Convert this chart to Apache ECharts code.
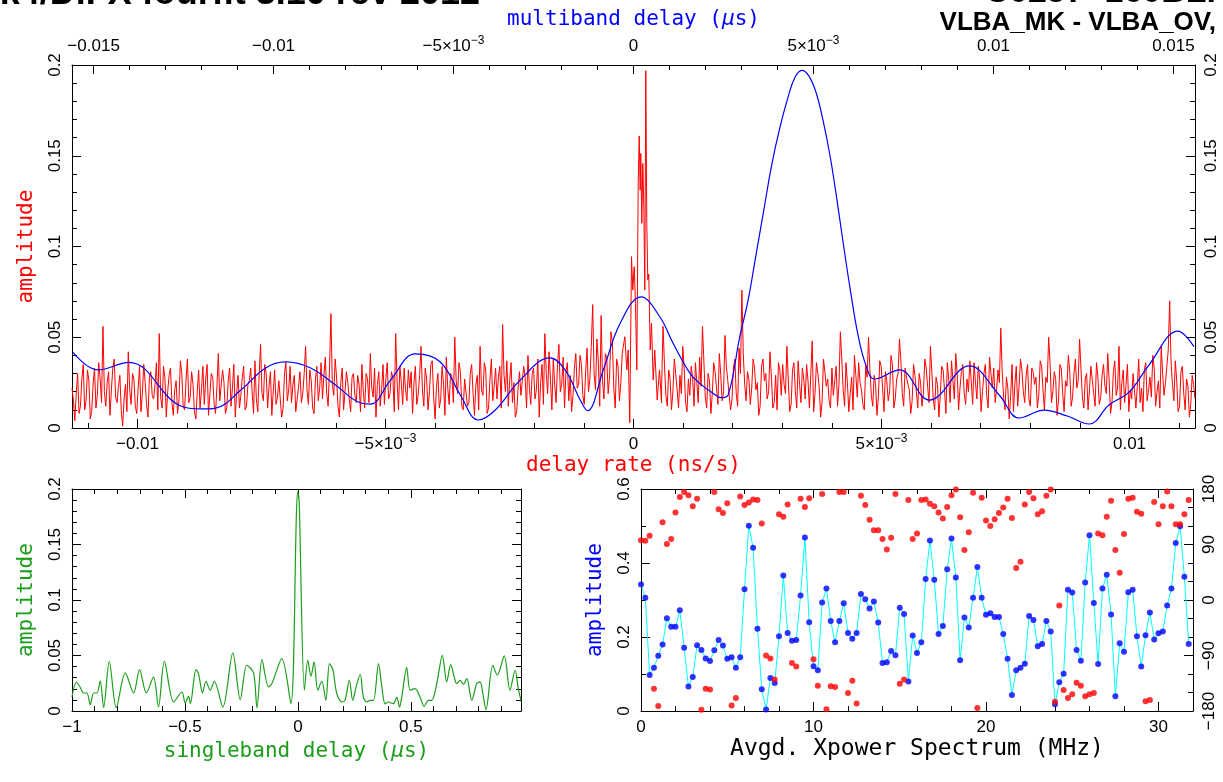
<!DOCTYPE html>
<html>
<head>
<meta charset="utf-8">
<title>fourfit fringe plot</title>
<script src="https://cdn.jsdelivr.net/npm/echarts@6/dist/echarts.min.js"></script>
<style>
  html, body { margin: 0; padding: 0; background: #ffffff; }
  #chart { width: 1223px; height: 782px; }
</style>
</head>
<body>
<div id="chart"></div>
<script>
// ---------------- delay-rate spectrum (top panel, bottom axis, ns/s) ----------------
const RATE_MIN = -0.01132;
const RATE_MAX = 0.01132;
const RATE_POINTS = 799;            // uniform sampling of the rate window
// left of the fringe peak: even grid samples
const rateLeftEven = [
  0.022, 0.004, 0.030, 0.012, 0.035, 0.015, 0.026, 0.009, 0.033, 0.018, 0.027, 0.056, 0.012, 0.031, 0.021, 0.038, 0.014, 0.029, 0.001, 0.024,
  0.042, 0.013, 0.027, 0.008, 0.034, 0.019, 0.025, 0.006, 0.031, 0.016, 0.036, 0.052, 0.011, 0.028, 0.020, 0.033, 0.007, 0.026, 0.015, 0.030,
  0.010, 0.038, 0.017, 0.024, 0.005, 0.032, 0.021, 0.013, 0.035, 0.019, 0.028, 0.008, 0.041, 0.016, 0.025, 0.011, 0.033, 0.022, 0.006, 0.029,
  0.018, 0.034, 0.012, 0.026, 0.020, 0.037, 0.009, 0.046, 0.015, 0.030, 0.023, 0.007, 0.032, 0.017, 0.027, 0.011, 0.036, 0.021, 0.014, 0.029,
  0.010, 0.031, 0.019, 0.045, 0.013, 0.026, 0.008, 0.034, 0.022, 0.016, 0.039, 0.012, 0.063, 0.018, 0.028, 0.006, 0.033, 0.020, 0.025, 0.009,
  0.030, 0.014, 0.024, 0.035, 0.011, 0.027, 0.041, 0.017, 0.006, 0.031, 0.021, 0.013, 0.036, 0.019, 0.028, 0.052, 0.010, 0.025, 0.033, 0.015,
  0.022, 0.008, 0.034, 0.018, 0.045, 0.012, 0.027, 0.020, 0.037, 0.005, 0.030, 0.016, 0.024, 0.039, 0.013, 0.028, 0.050, 0.019, 0.031, 0.010,
  0.026, 0.014, 0.035, 0.007, 0.029, 0.045, 0.018, 0.032, 0.011, 0.038, 0.023, 0.016, 0.034, 0.057, 0.020, 0.012, 0.036, 0.025, 0.009, 0.031,
  0.017, 0.028, 0.040, 0.013, 0.033, 0.021, 0.006, 0.035, 0.052, 0.019, 0.027, 0.038, 0.014, 0.046, 0.024, 0.011, 0.036, 0.029, 0.018, 0.041,
  0.024, 0.035, 0.013, 0.044, 0.027, 0.068, 0.021, 0.037, 0.062, 0.016, 0.039, 0.028, 0.047, 0.011, 0.034, 0.025
];
// left of the fringe peak: odd grid samples
const rateLeftOdd = [
  0.015, 0.019, 0.008, 0.027, 0.010, 0.032, 0.005, 0.024, 0.011, 0.036, 0.014, 0.020, 0.025, 0.007, 0.033, 0.017, 0.023, 0.010, 0.016, 0.009,
  0.021, 0.030, 0.012, 0.022, 0.009, 0.035, 0.013, 0.028, 0.018, 0.024, 0.010, 0.017, 0.034, 0.006, 0.029, 0.014, 0.021, 0.008, 0.037, 0.012,
  0.026, 0.014, 0.031, 0.009, 0.020, 0.011, 0.034, 0.027, 0.007, 0.030, 0.013, 0.023, 0.015, 0.032, 0.008, 0.026, 0.012, 0.035, 0.019, 0.011,
  0.028, 0.010, 0.024, 0.033, 0.008, 0.016, 0.029, 0.019, 0.035, 0.011, 0.031, 0.020, 0.013, 0.026, 0.006, 0.030, 0.015, 0.034, 0.024, 0.009,
  0.023, 0.014, 0.030, 0.021, 0.032, 0.011, 0.027, 0.015, 0.036, 0.029, 0.019, 0.033, 0.024, 0.038, 0.012, 0.025, 0.010, 0.031, 0.016, 0.028,
  0.018, 0.029, 0.009, 0.020, 0.030, 0.014, 0.022, 0.033, 0.024, 0.012, 0.035, 0.027, 0.016, 0.031, 0.009, 0.026, 0.034, 0.013, 0.021, 0.032,
  0.031, 0.025, 0.013, 0.029, 0.021, 0.033, 0.010, 0.035, 0.017, 0.023, 0.011, 0.034, 0.007, 0.022, 0.030, 0.014, 0.026, 0.036, 0.012, 0.027,
  0.012, 0.030, 0.019, 0.024, 0.010, 0.021, 0.036, 0.008, 0.027, 0.015, 0.033, 0.028, 0.011, 0.029, 0.037, 0.026, 0.014, 0.006, 0.022, 0.018,
  0.034, 0.011, 0.022, 0.030, 0.016, 0.038, 0.025, 0.013, 0.030, 0.042, 0.010, 0.024, 0.035, 0.020, 0.039, 0.031, 0.015, 0.009, 0.033, 0.022,
  0.040, 0.018, 0.031, 0.020, 0.045, 0.030, 0.049, 0.012, 0.026, 0.041, 0.019, 0.053, 0.022, 0.038, 0.015, 0.041
];
// finely sampled fringe peak: [rate (ns/s), amplitude]
const rateCore = [
  [-0.000175, 0.0503], [-0.000135, 0.0320], [-0.000107, 0.0430], [-0.000075, 0.0029],
  [-0.000040, 0.0944], [-0.000014, 0.0760], [0.000014, 0.0889], [0.000040, 0.0687],
  [0.000067, 0.0320], [0.000095, 0.1348], [0.000115, 0.1609], [0.000135, 0.1311],
  [0.000147, 0.1513], [0.000167, 0.1128], [0.000188, 0.1458], [0.000208, 0.1219],
  [0.000228, 0.0760], [0.000248, 0.1969], [0.000268, 0.1128], [0.000288, 0.0815],
  [0.000308, 0.0848], [0.000337, 0.0430], [0.000363, 0.0577], [0.000397, 0.0264],
  [0.000429, 0.0430], [0.000478, 0.0154], [0.000524, 0.0320], [0.000565, 0.0138]
];
// right of the fringe peak: odd grid samples
const rateRightOdd = [
  0.024, 0.035, 0.012, 0.027, 0.020, 0.030, 0.011, 0.019, 0.033, 0.009,
  0.018, 0.028, 0.036, 0.014, 0.023, 0.037, 0.011, 0.026, 0.019, 0.031, 0.013, 0.029, 0.020, 0.034, 0.027, 0.016, 0.038, 0.012, 0.030, 0.041,
  0.015, 0.027, 0.022, 0.033, 0.025, 0.012, 0.038, 0.030, 0.020, 0.028, 0.014, 0.010, 0.032, 0.035, 0.019, 0.026, 0.013, 0.036, 0.011, 0.024,
  0.033, 0.016, 0.026, 0.030, 0.009, 0.036, 0.022, 0.014, 0.031, 0.027, 0.011, 0.018, 0.034, 0.024, 0.038, 0.012, 0.025, 0.019, 0.010, 0.029,
  0.036, 0.021, 0.010, 0.028, 0.032, 0.012, 0.024, 0.017, 0.034, 0.009, 0.026, 0.020, 0.035, 0.016, 0.030, 0.037, 0.012, 0.028, 0.021, 0.015,
  0.029, 0.011, 0.025, 0.019, 0.033, 0.014, 0.031, 0.010, 0.024, 0.018, 0.032, 0.008, 0.027, 0.037, 0.016, 0.030, 0.022, 0.035, 0.013, 0.020,
  0.026, 0.036, 0.016, 0.027, 0.020, 0.035, 0.011, 0.030, 0.033, 0.021, 0.025, 0.031, 0.010, 0.022, 0.018, 0.009, 0.034, 0.023, 0.032, 0.014,
  0.035, 0.012, 0.031, 0.028, 0.018, 0.034, 0.010, 0.025, 0.036, 0.020, 0.027, 0.015, 0.033, 0.009, 0.023, 0.031, 0.017, 0.038, 0.026, 0.032,
  0.011, 0.030, 0.021, 0.033, 0.012, 0.028, 0.017, 0.035, 0.019, 0.026, 0.014, 0.037, 0.022, 0.010, 0.032, 0.024, 0.009, 0.016, 0.029, 0.023,
  0.014, 0.009, 0.036, 0.021, 0.017, 0.033, 0.020, 0.011, 0.030, 0.025, 0.043, 0.036, 0.015, 0.026, 0.012, 0.034, 0.010, 0.023, 0.013, 0.024
];
// right of the fringe peak: even grid samples
const rateRightEven = [
  0.056, 0.018, 0.032, 0.010, 0.038, 0.021, 0.029, 0.045, 0.014, 0.027,
  0.034, 0.012, 0.025, 0.039, 0.056, 0.017, 0.030, 0.008, 0.036, 0.022, 0.041, 0.015, 0.051, 0.026, 0.010, 0.033, 0.019, 0.044, 0.076, 0.024,
  0.031, 0.013, 0.038, 0.021, 0.007, 0.034, 0.026, 0.016, 0.042, 0.011, 0.029, 0.036, 0.018, 0.024, 0.045, 0.009, 0.032, 0.020, 0.037, 0.014,
  0.027, 0.035, 0.011, 0.048, 0.019, 0.030, 0.006, 0.038, 0.023, 0.015, 0.033, 0.026, 0.012, 0.053, 0.021, 0.036, 0.009, 0.028, 0.040, 0.017,
  0.025, 0.013, 0.034, 0.050, 0.018, 0.029, 0.007, 0.037, 0.022, 0.031, 0.015, 0.040, 0.011, 0.027, 0.049, 0.019, 0.033, 0.024, 0.008, 0.035,
  0.020, 0.030, 0.012, 0.038, 0.023, 0.045, 0.016, 0.028, 0.006, 0.034, 0.021, 0.036, 0.014, 0.026, 0.041, 0.010, 0.031, 0.019, 0.027, 0.037,
  0.013, 0.025, 0.034, 0.009, 0.030, 0.018, 0.039, 0.022, 0.014, 0.032, 0.055, 0.017, 0.028, 0.005, 0.035, 0.024, 0.012, 0.038, 0.020, 0.029,
  0.016, 0.033, 0.024, 0.011, 0.037, 0.021, 0.028, 0.050, 0.014, 0.031, 0.007, 0.035, 0.019, 0.026, 0.040, 0.012, 0.030, 0.022, 0.049, 0.017,
  0.027, 0.010, 0.034, 0.019, 0.036, 0.013, 0.029, 0.023, 0.041, 0.008, 0.031, 0.018, 0.045, 0.025, 0.014, 0.035, 0.021, 0.030, 0.011, 0.038,
  0.022, 0.032, 0.015, 0.028, 0.040, 0.012, 0.026, 0.045, 0.018, 0.034, 0.070, 0.024, 0.037, 0.009, 0.031, 0.019, 0.027, 0.006, 0.029, 0.016
];
const rateTicks = [-0.01, -0.005, 0, 0.005, 0.01];
const rateTickLabels = ['−0.01', '−5×10^−3', '0', '5×10^−3', '0.01'];

// ---------------- multiband delay function (top panel, top axis, µs) ----------------
const MBD_MIN = -0.0156;
const MBD_MAX = 0.0156;
const mbdCurve = [
  [-0.01557, 0.0417], [-0.01488, 0.0320], [-0.01402, 0.0362], [-0.01258, 0.0121],
  [-0.01202, 0.0105], [-0.01161, 0.0110], [-0.01091, 0.0209], [-0.01022, 0.0331],
  [-0.00967, 0.0364], [-0.00897, 0.0331], [-0.00828, 0.0237], [-0.00758, 0.0138],
  [-0.00731, 0.0132], [-0.00675, 0.0264], [-0.00606, 0.0408], [-0.00537, 0.0364],
  [-0.00481, 0.0182], [-0.00431, 0.0044], [-0.00384, 0.0099], [-0.00315, 0.0264],
  [-0.00232, 0.0386], [-0.00190, 0.0320], [-0.00148, 0.0154], [-0.00128, 0.0095],
  [-0.00084, 0.0320], [-0.00037, 0.0577], [0.00021, 0.0723], [0.00073, 0.0613],
  [0.00110, 0.0467], [0.00157, 0.0301], [0.00184, 0.0246], [0.00221, 0.0191],
  [0.00243, 0.0167], [0.00263, 0.0182], [0.00295, 0.0500], [0.00318, 0.0700],
  [0.00340, 0.0950], [0.00362, 0.1200], [0.00384, 0.1450], [0.00406, 0.1650],
  [0.00429, 0.1820], [0.00448, 0.1930], [0.00468, 0.1970], [0.00487, 0.1940],
  [0.00507, 0.1850], [0.00526, 0.1700], [0.00546, 0.1500], [0.00565, 0.1260],
  [0.00584, 0.1000], [0.00604, 0.0740], [0.00623, 0.0520], [0.00645, 0.0350],
  [0.00670, 0.0270], [0.00739, 0.0320], [0.00822, 0.0154],
  [0.00933, 0.0342], [0.01016, 0.0182], [0.01072, 0.0055], [0.01141, 0.0099],
  [0.01205, 0.0066], [0.01266, 0.0022], [0.01321, 0.0127], [0.01377, 0.0198],
  [0.01432, 0.0347], [0.01513, 0.0534], [0.01557, 0.0448]
];
const mbdTicks = [-0.015, -0.01, -0.005, 0, 0.005, 0.01, 0.015];
const mbdTickLabels = ['−0.015', '−0.01', '−5×10^−3', '0', '5×10^−3', '0.01', '0.015'];

// ---------------- singleband delay function (bottom left, µs) ----------------
const SBD_MIN = -1;
const SBD_MAX = 0.988;
const sbdCurve = [
  [-1.000, 0.0126], [-0.981, 0.0259], [-0.966, 0.0223], [-0.948, 0.0162], [-0.934, 0.0162],
  [-0.919, 0.0057], [-0.904, 0.0162], [-0.889, 0.0162], [-0.875, 0.0271], [-0.860, 0.0030],
  [-0.835, 0.0448], [-0.804, 0.0030], [-0.764, 0.0343], [-0.727, 0.0162], [-0.701, 0.0373],
  [-0.671, 0.0162], [-0.639, 0.0307], [-0.617, 0.0036], [-0.591, 0.0448], [-0.550, 0.0081],
  [-0.513, 0.0171], [-0.499, 0.0072], [-0.484, 0.0132], [-0.476, 0.0066], [-0.451, 0.0373],
  [-0.440, 0.0337], [-0.422, 0.0162], [-0.407, 0.0268], [-0.388, 0.0187], [-0.370, 0.0268],
  [-0.332, 0.0036], [-0.288, 0.0523], [-0.255, 0.0102], [-0.226, 0.0412], [-0.196, 0.0343],
  [-0.181, 0.0030], [-0.159, 0.0463], [-0.130, 0.0217], [-0.115, 0.0247], [-0.071, 0.0472],
  [-0.031, 0.0066], [-0.006, 0.1800], [0.000, 0.1977], [0.006, 0.1880], [0.029, 0.0187],
  [0.044, 0.0457], [0.058, 0.0313], [0.072, 0.0442], [0.088, 0.0187], [0.106, 0.0268],
  [0.124, 0.0096], [0.140, 0.0427], [0.155, 0.0373], [0.172, 0.0160], [0.195, 0.0081],
  [0.209, 0.0096], [0.228, 0.0277], [0.243, 0.0096], [0.258, 0.0217], [0.276, 0.0331],
  [0.290, 0.0126], [0.305, 0.0081], [0.320, 0.0096], [0.335, 0.0096], [0.357, 0.0427],
  [0.372, 0.0217], [0.386, 0.0066], [0.401, 0.0081], [0.423, 0.0066], [0.438, 0.0126],
  [0.450, 0.0036], [0.460, 0.0126], [0.482, 0.0391], [0.497, 0.0187], [0.519, 0.0202],
  [0.541, 0.0126], [0.559, 0.0042], [0.578, 0.0096], [0.593, 0.0096], [0.615, 0.0247],
  [0.640, 0.0502], [0.659, 0.0262], [0.677, 0.0418], [0.692, 0.0307], [0.703, 0.0247],
  [0.718, 0.0277], [0.733, 0.0241], [0.748, 0.0292], [0.770, 0.0096], [0.792, 0.0247],
  [0.807, 0.0262], [0.818, 0.0171], [0.833, 0.0012], [0.863, 0.0412], [0.883, 0.0322],
  [0.914, 0.0496], [0.939, 0.0187], [0.962, 0.0367], [0.976, 0.0202], [0.988, 0.0096]
];

// ---------------- averaged cross-power spectrum (bottom right) ----------------
const CHAN_STEP = 0.25;   // MHz between spectral points
const FREQ_MAX = 32;
const chanAmp = [
  0.342, 0.306, 0.097, 0.117, 0.149, 0.180, 0.251, 0.228, 0.228, 0.272,
  0.171, 0.066, 0.092, 0.178, 0.165, 0.142, 0.135, 0.164, 0.192, 0.177,
  0.141, 0.145, 0.117, 0.145, 0.329, 0.501, 0.441, 0.222, 0.059, 0.004,
  0.089, 0.076, 0.202, 0.366, 0.211, 0.190, 0.192, 0.312, 0.469, 0.240,
  0.121, 0.110, 0.293, 0.331, 0.243, 0.186, 0.243, 0.291, 0.211, 0.195,
  0.211, 0.316, 0.302, 0.277, 0.296, 0.239, 0.130, 0.132, 0.162, 0.151,
  0.279, 0.262, 0.080, 0.204, 0.157, 0.186, 0.357, 0.461, 0.355, 0.208,
  0.230, 0.383, 0.466, 0.361, 0.137, 0.253, 0.226, 0.306, 0.389, 0.306,
  0.260, 0.264, 0.254, 0.254, 0.208, 0.141, 0.043, 0.110, 0.117, 0.128,
  0.257, 0.246, 0.175, 0.181, 0.243, 0.215, 0.018, 0.078, 0.101, 0.328,
  0.320, 0.165, 0.136, 0.347, 0.475, 0.292, 0.127, 0.331, 0.368, 0.261,
  0.040, 0.183, 0.160, 0.321, 0.328, 0.202, 0.120, 0.205, 0.266, 0.193,
  0.210, 0.215, 0.285, 0.331, 0.454, 0.499, 0.363, 0.181
];
const chanPhase = [
  97, 96, 104, -144, -172, 126, 91, 99, 142, 167,
  175, 170, 152, 164, -178, -144, -145, 175, 147, 141,
  157, -171, -159, 168, 154, 158, 163, 162, 124, -90,
  -95, -129, 139, 135, 155, -102, -108, 164, 151, 165,
  -96, -139, 172, -177, -140, -141, 175, 175, -151, -131,
  -168, 169, 154, 130, 113, 113, 99, 82, 101, 172,
  -136, -129, 162, 99, 108, 162, 163, 156, 152, 142,
  132, 151, 170, 179, 134, 81, 110, 174, -175, 166,
  129, 120, 131, 141, 150, 164, 133, 52, 62, 155,
  175, 165, 139, 144, 169, 179, -165, -9, -146, -159,
  -153, -134, -139, -156, -153, -151, 108, 105, 135, 161,
  81, 44, 107, 164, 166, 143, 140, -164, -162, 159,
  123, 152, 176, 152, 123, 123, 139, 162
];

// ---------------- headers ----------------
const headerLeft = 'Mk4/DiFX fourfit 3.10 rev 2012';
const headerRight1 = 'C0257+160BL.';
const headerRight2 = 'VLBA_MK - VLBA_OV,';

// ---------------- build series data ----------------
const rateStep = (RATE_MAX - RATE_MIN) / (RATE_POINTS - 1);
const rateX = j => RATE_MIN + j * rateStep;
const rateSeries = [];
rateLeftEven.forEach((a, i) => {
  rateSeries.push([rateX(2 * i), a]);
  rateSeries.push([rateX(2 * i + 1), rateLeftOdd[i]]);
});
rateCore.forEach(p => rateSeries.push(p));
const rightStart = RATE_POINTS - 2 * rateRightEven.length;
rateRightEven.forEach((a, i) => {
  rateSeries.push([rateX(rightStart + 2 * i), rateRightOdd[i]]);
  rateSeries.push([rateX(rightStart + 2 * i + 1), a]);
});

const ampSeries = chanAmp.map((a, i) => [i * CHAN_STEP, a]);
const phaseSeries = chanPhase.map((p, i) => [i * CHAN_STEP, p]);

const rateMinorTicks = [];
for (let k = -11; k <= 11; k++) rateMinorTicks.push(k / 1000);
const mbdMinorTicks = [];
for (let k = -15; k <= 15; k++) mbdMinorTicks.push(k / 1000);

// ---------------- styling helpers ----------------
const TICK_FONT = 'Liberation Sans';
const NAME_FONT = 'DejaVu Sans Mono';
const RED = '#ff0000', BLUE = '#0000ff', GREEN = '#1a9e1a', CYAN = '#00ffff';

const tickRich = {
  b: { fontFamily: TICK_FONT, fontSize: 17, lineHeight: 22, color: '#000' },
  s: { fontFamily: TICK_FONT, fontSize: 12, lineHeight: 12, verticalAlign: 'top', color: '#000' }
};
function richTick(values, labels) {
  return function (v) {
    const k = values.findIndex(t => Math.abs(t - v) < 1e-9);
    if (k < 0) return '';
    const parts = labels[k].split('^');
    return parts.length > 1 ? '{b|' + parts[0] + '}{s|' + parts[1] + '}' : '{b|' + parts[0] + '}';
  };
}
const minus = v => String(+v.toFixed(6)).replace('-', '−');
const plainRich = v => '{b|' + minus(v) + '}';

const frameLine = { show: true, onZero: false, lineStyle: { color: '#000', width: 1 } };
const noLine = { show: false, onZero: false };
const tickStyle = { color: '#000', width: 1 };

function nameStyle(color, size) {
  return {
    color: color, fontFamily: NAME_FONT, fontSize: size,
    rich: {
      t: { color: color, fontFamily: NAME_FONT, fontSize: size, lineHeight: size + 2 },
      i: { color: color, fontFamily: NAME_FONT, fontSize: size, lineHeight: size + 2, fontStyle: 'italic' }
    }
  };
}

// value axis with regular interval and minor ticks
function regularAxis(o) {
  return {
    type: 'value', gridIndex: o.grid, position: o.position,
    min: o.min, max: o.max, interval: o.interval,
    splitLine: { show: false },
    axisLine: frameLine,
    axisTick: { show: true, inside: true, length: 9, lineStyle: tickStyle },
    minorTick: { show: true, splitNumber: o.split, length: 5, lineStyle: tickStyle },
    axisLabel: o.labels ? Object.assign({
      show: true, color: '#000', fontFamily: TICK_FONT, fontSize: 17,
      showMaxLabel: o.showMax !== false, showMinLabel: true
    }, o.labels) : { show: false },
    name: o.name || '', nameLocation: 'middle', nameGap: o.nameGap || 0,
    nameRotate: o.nameRotate || 0, nameTextStyle: o.nameTextStyle
  };
}

const option = {
  animation: false,
  backgroundColor: '#ffffff',
  grid: [
    { left: 72, top: 65, width: 1123, height: 363, containLabel: false, outerBoundsMode: 'none' },
    { left: 72, top: 489, width: 449, height: 222, containLabel: false, outerBoundsMode: 'none' },
    { left: 641, top: 489, width: 552, height: 222, containLabel: false, outerBoundsMode: 'none' }
  ],
  xAxis: [
    // 0: delay rate, bottom of top panel (major ticks + labels)
    {
      type: 'value', gridIndex: 0, position: 'bottom', min: RATE_MIN, max: RATE_MAX,
      splitLine: { show: false }, axisLine: frameLine,
      axisTick: { show: true, inside: true, length: 9, lineStyle: tickStyle, customValues: rateTicks },
      axisLabel: { show: true, margin: 5, customValues: rateTicks, formatter: richTick(rateTicks, rateTickLabels), rich: tickRich },
      name: 'delay rate (ns/s)', nameLocation: 'middle', nameGap: 27, nameTextStyle: nameStyle(RED, 21)
    },
    // 1: delay rate minor ticks
    {
      type: 'value', gridIndex: 0, position: 'bottom', min: RATE_MIN, max: RATE_MAX,
      splitLine: { show: false }, axisLine: noLine,
      axisTick: { show: true, inside: true, length: 5, lineStyle: tickStyle, customValues: rateMinorTicks },
      axisLabel: { show: false }
    },
    // 2: multiband delay, top of top panel
    {
      type: 'value', gridIndex: 0, position: 'top', min: MBD_MIN, max: MBD_MAX,
      splitLine: { show: false }, axisLine: frameLine,
      axisTick: { show: true, inside: true, length: 9, lineStyle: tickStyle, customValues: mbdTicks },
      axisLabel: { show: true, margin: 8, customValues: mbdTicks, formatter: richTick(mbdTicks, mbdTickLabels), rich: tickRich },
      name: '{t|multiband delay (}{i|µ}{t|s)}', nameLocation: 'middle', nameGap: 34, nameTextStyle: nameStyle(BLUE, 21)
    },
    // 3: multiband delay minor ticks
    {
      type: 'value', gridIndex: 0, position: 'top', min: MBD_MIN, max: MBD_MAX,
      splitLine: { show: false }, axisLine: noLine,
      axisTick: { show: true, inside: true, length: 5, lineStyle: tickStyle, customValues: mbdMinorTicks },
      axisLabel: { show: false }
    },
    // 4: singleband delay
    regularAxis({
      grid: 1, position: 'bottom', min: SBD_MIN, max: SBD_MAX, interval: 0.5, split: 5, showMax: false,
      labels: { margin: 5, formatter: plainRich, rich: tickRich },
      name: '{t|singleband delay (}{i|µ}{t|s)}', nameGap: 29, nameTextStyle: nameStyle(GREEN, 21)
    }),
    // 5: singleband delay, top frame
    regularAxis({ grid: 1, position: 'top', min: SBD_MIN, max: SBD_MAX, interval: 0.5, split: 5 }),
    // 6: frequency
    regularAxis({
      grid: 2, position: 'bottom', min: 0, max: FREQ_MAX, interval: 10, split: 5, showMax: false,
      labels: { margin: 5, formatter: plainRich, rich: tickRich },
      name: 'Avgd. Xpower Spectrum (MHz)', nameGap: 27, nameTextStyle: nameStyle('#000', 23)
    }),
    // 7: frequency, top frame
    regularAxis({ grid: 2, position: 'top', min: 0, max: FREQ_MAX, interval: 10, split: 5 })
  ],
  yAxis: [
    // 0: amplitude, top panel left
    regularAxis({
      grid: 0, position: 'left', min: 0, max: 0.2, interval: 0.05, split: 5,
      labels: { rotate: 90, margin: 8, formatter: minus },
      name: 'amplitude', nameGap: 35, nameRotate: 90, nameTextStyle: nameStyle(RED, 21)
    }),
    // 1: amplitude, top panel right
    regularAxis({
      grid: 0, position: 'right', min: 0, max: 0.2, interval: 0.05, split: 5,
      labels: { rotate: 90, margin: 8, formatter: minus }
    }),
    // 2: singleband amplitude left
    regularAxis({
      grid: 1, position: 'left', min: 0, max: 0.2, interval: 0.05, split: 5,
      labels: { rotate: 90, margin: 8, formatter: minus },
      name: 'amplitude', nameGap: 35, nameRotate: 90, nameTextStyle: nameStyle(GREEN, 21)
    }),
    // 3: singleband right frame
    regularAxis({ grid: 1, position: 'right', min: 0, max: 0.2, interval: 0.05, split: 5 }),
    // 4: spectrum amplitude
    regularAxis({
      grid: 2, position: 'left', min: 0, max: 0.6, interval: 0.2, split: 2,
      labels: { rotate: 90, margin: 8, formatter: minus },
      name: 'amplitude', nameGap: 35, nameRotate: 90, nameTextStyle: nameStyle(BLUE, 21)
    }),
    // 5: spectrum phase (degrees)
    regularAxis({
      grid: 2, position: 'right', min: -180, max: 180, interval: 90, split: 3,
      labels: { rotate: 90, margin: 8, formatter: minus }
    })
  ],
  series: [
    {
      name: 'delay rate', type: 'line', xAxisIndex: 0, yAxisIndex: 0,
      data: rateSeries, showSymbol: false, symbol: 'none',
      lineStyle: { color: RED, width: 1 }, z: 2
    },
    {
      name: 'multiband delay', type: 'line', xAxisIndex: 2, yAxisIndex: 0,
      data: mbdCurve, showSymbol: false, symbol: 'none', smooth: 0.4,
      lineStyle: { color: BLUE, width: 1.2 }, z: 3
    },
    {
      name: 'singleband delay', type: 'line', xAxisIndex: 4, yAxisIndex: 2,
      data: sbdCurve, showSymbol: false, symbol: 'none', smooth: 0.3,
      lineStyle: { color: GREEN, width: 1.2 }, z: 2
    },
    {
      name: 'amplitude line', type: 'line', xAxisIndex: 6, yAxisIndex: 4,
      data: ampSeries, showSymbol: false, symbol: 'none',
      lineStyle: { color: CYAN, width: 1 }, z: 2
    },
    {
      name: 'amplitude', type: 'scatter', xAxisIndex: 6, yAxisIndex: 4,
      data: ampSeries, symbol: 'circle', symbolSize: 6,
      itemStyle: { color: BLUE }, z: 3
    },
    {
      name: 'phase', type: 'scatter', xAxisIndex: 6, yAxisIndex: 5,
      data: phaseSeries, symbol: 'circle', symbolSize: 6,
      itemStyle: { color: RED }, z: 4
    }
  ],
  graphic: [
    {
      type: 'text', x: 480, y: -5.5, silent: true,
      style: { text: headerLeft, fill: '#000', font: 'bold 36px "Liberation Sans"',
               align: 'right', textAlign: 'right', verticalAlign: 'middle', textVerticalAlign: 'middle' }
    },
    {
      type: 'text', x: 1216, y: -7, silent: true,
      style: { text: headerRight1, fill: '#000', font: 'bold 34px "Liberation Sans"',
               align: 'right', textAlign: 'right', verticalAlign: 'middle', textVerticalAlign: 'middle' }
    },
    {
      type: 'text', x: 1216, y: 23, silent: true,
      style: { text: headerRight2, fill: '#000', font: 'bold 26px "Liberation Sans"',
               align: 'right', textAlign: 'right', verticalAlign: 'middle', textVerticalAlign: 'middle' }
    }
  ]
};

const chart = echarts.init(document.getElementById('chart'), null, { renderer: 'canvas' });
chart.setOption(option);
</script>
</body>
</html>
